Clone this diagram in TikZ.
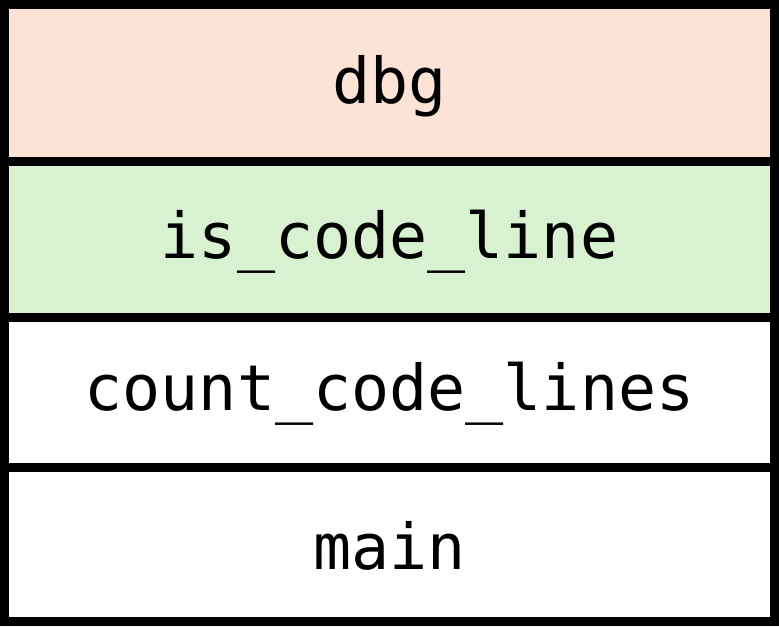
\documentclass[tikz,border=0pt]{standalone}
\usepackage{fontspec}
\setmonofont{DejaVu Sans Mono}
\definecolor{framepink}{RGB}{253,227,214}
\definecolor{framegreen}{RGB}{216,242,209}
\begin{document}
\begin{tikzpicture}[x=0.01cm,y=-0.01cm,
  frame/.style={draw=black,line width=0.09cm},
  lbl/.style={font=\ttfamily\fontsize{18}{20}\selectfont,text=black}]
\useasboundingbox (0,0) rectangle (779,626);
% stack frames, top to bottom
\filldraw[frame,fill=framepink]  (4.5,4.5)   rectangle (774.5,161);
\filldraw[frame,fill=framegreen] (4.5,161)   rectangle (774.5,317.5);
\filldraw[frame,fill=white]      (4.5,317.5) rectangle (774.5,467);
\filldraw[frame,fill=white]      (4.5,467)   rectangle (774.5,621.5);
% frame labels
\node[lbl] (dbg)  at (389.5,86)  {dbg};
\node[lbl] (icl)  at (389.5,242) {is\_code\_line};
\node[lbl] (ccl)  at (389.5,394) {count\_code\_lines};
\node[lbl] (main) at (389.5,546) {main};
\end{tikzpicture}
\end{document}
